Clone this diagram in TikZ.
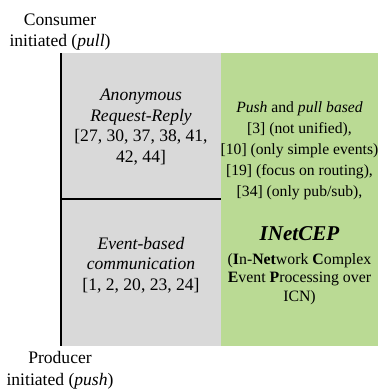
\documentclass[tikz,border=0pt]{standalone}
\usepackage{fontspec}
\setmainfont{Liberation Serif}
\usetikzlibrary{positioning}
\begin{document}
\begin{tikzpicture}[x=0.02cm, y=-0.02cm]
  \useasboundingbox (0,0) rectangle (378,389);

  % Define colors for each cell
  \definecolor{cellgray}{RGB}{217,217,217}
  \definecolor{cellgreen}{RGB}{186,218,148}

  % Cells
  \fill[cellgray] (61,53) rectangle (221,346);
  \fill[cellgreen] (221,53) rectangle (378,346);

  % Draw axes
  \draw[line width=1.6pt] (61,53) -- (61,346); % Vertical axis
  \draw[line width=1.4pt] (61,199) -- (221,199); % Divider

  % Axis labels
  \node[align=center, font=\fontsize{10}{12.3}\selectfont] (pull) at (60,32) {Consumer\\initiated (\emph{pull})};
  \node[align=center, font=\fontsize{10}{12.3}\selectfont] (push) at (60,370) {Producer\\initiated (\emph{push})};

  % Gray cells
  \node[align=center, font=\fontsize{10}{11.7}\selectfont] (reqrep) at (141,127) {\emph{Anonymous}\\\emph{Request-Reply}\\{[27, 30, 37, 38, 41,}\\42, 44]};
  \node[align=center, font=\fontsize{10}{11.7}\selectfont] (eventbased) at (141,265) {\emph{Event-based}\\\emph{communication}\\{[1, 2, 20, 23, 24]}};

  % Green cell
  \node[align=center, font=\fontsize{8.9}{12}\selectfont] (pushpull) at (299.5,151) {\emph{Push} and \emph{pull based}\\{[3] (not unified),}\\{[10] (only simple events)}\\{[19] (focus on routing),}\\{[34] (only pub/sub),}};
  \node[font=\fontsize{12}{14}\selectfont\bfseries\itshape] (inetcep) at (299.5,234) {INetCEP};
  \node[align=center, font=\fontsize{9}{10.5}\selectfont, below=0pt of inetcep] (expand) {(\textbf{I}n-\textbf{Net}work \textbf{C}omplex\\\textbf{E}vent \textbf{P}rocessing over\\ICN)};

\end{tikzpicture}
\end{document}
